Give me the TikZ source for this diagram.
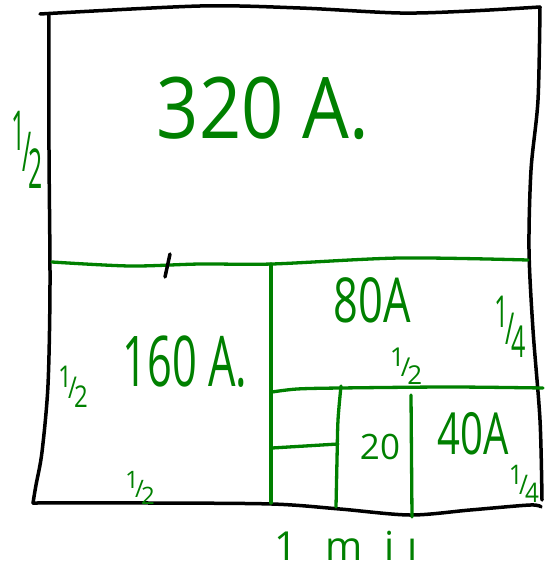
\documentclass[tikz,border=0pt]{standalone}
\usepackage{fontspec}
\setmainfont{Open Sans}
\usepackage{graphicx}
\definecolor{pen}{RGB}{0,128,0}
\newcommand\hfr[2]{\raisebox{0.38em}{#1}\kern-0.15em/\kern-0.12em\raisebox{-0.3em}{#2}}
\newcommand\fsz[1]{\fontsize{#1}{#1}\selectfont}
\tikzset{
  lab/.style={text=pen, inner sep=0pt, anchor=center},
  blk/.style={draw=black, line width=3.5pt, line cap=round, line join=round},
  grn/.style={draw=pen, line width=3.3pt, line cap=round, line join=round}
}
\begin{document}
\begin{tikzpicture}[x=1pt,y=-1pt]
\useasboundingbox (0,0) rectangle (544,570);
% outer hand-drawn frame
\draw[blk] plot[smooth] coordinates {(40,14) (200,6) (300,8) (400,13) (470,11) (540,7)};
\draw[blk] plot[smooth] coordinates {(540,7) (538,100) (531,170) (529,250) (533,330) (540,420) (542,500)};
\draw[blk] plot[smooth] coordinates {(33,503) (150,503) (272,504) (340,509) (410,515) (470,510) (530,505) (541,507)};
\draw[blk] plot[smooth] coordinates {(49,14) (49,150) (50,285) (48,385) (42,452) (36,485) (33,503)};
% green partitions
\draw[grn] plot[smooth] coordinates {(52,262) (130,266) (200,264) (272,264) (400,258) (528,260)};
\draw[blk] (170,254) -- (165,277);
\draw[grn] (271,264) -- (271,503);
\draw[grn] plot[smooth] coordinates {(272,392) (297,389) (340,388) (450,387) (543,388)};
\draw[grn] plot[smooth] coordinates {(341,386) (338,420) (337,460) (336,507)};
\draw[grn] (272,448) -- (338,444);
\draw[grn] (411,395) -- (412,517);
% labels
\node[lab,font=\fsz{85}] (t320) at (263,108) {\scalebox{0.87}[1]{320 A.}};
\node[lab,font=\fsz{70}] (t160) at (185,362) {\scalebox{0.62}[1]{160 A.}};
\node[lab,font=\fsz{62}] (t80) at (372,300) {\scalebox{0.7}[1]{80A}};
\node[lab,font=\fsz{58}] (t40) at (473,434) {\scalebox{0.69}[1]{40A}};
\node[lab,font=\fsz{35}] (t20) at (380,447) {20};
\node[lab,font=\fsz{40}] (tmin) at (346,546) {1\hspace{28pt}m\hspace{22pt}i\hspace{12pt}ı};
% fractions
\node[lab,font=\fsz{55}] (f1) at (27,150) {\scalebox{0.45}[1]{\hfr{1}{2}}};
\node[lab,font=\fsz{30}] (f2) at (73,387) {\scalebox{0.8}[1]{\hfr{1}{2}}};
\node[lab,font=\fsz{24}] (f3) at (140,488) {\hfr{1}{2}};
\node[lab,font=\fsz{44}] (f4) at (510,327) {\scalebox{0.57}[1]{\hfr{1}{4}}};
\node[lab,font=\fsz{26}] (f5) at (406,366) {\hfr{1}{2}};
\node[lab,font=\fsz{27}] (f6) at (524,484) {\scalebox{0.9}[1]{\hfr{1}{4}}};
\end{tikzpicture}
\end{document}
